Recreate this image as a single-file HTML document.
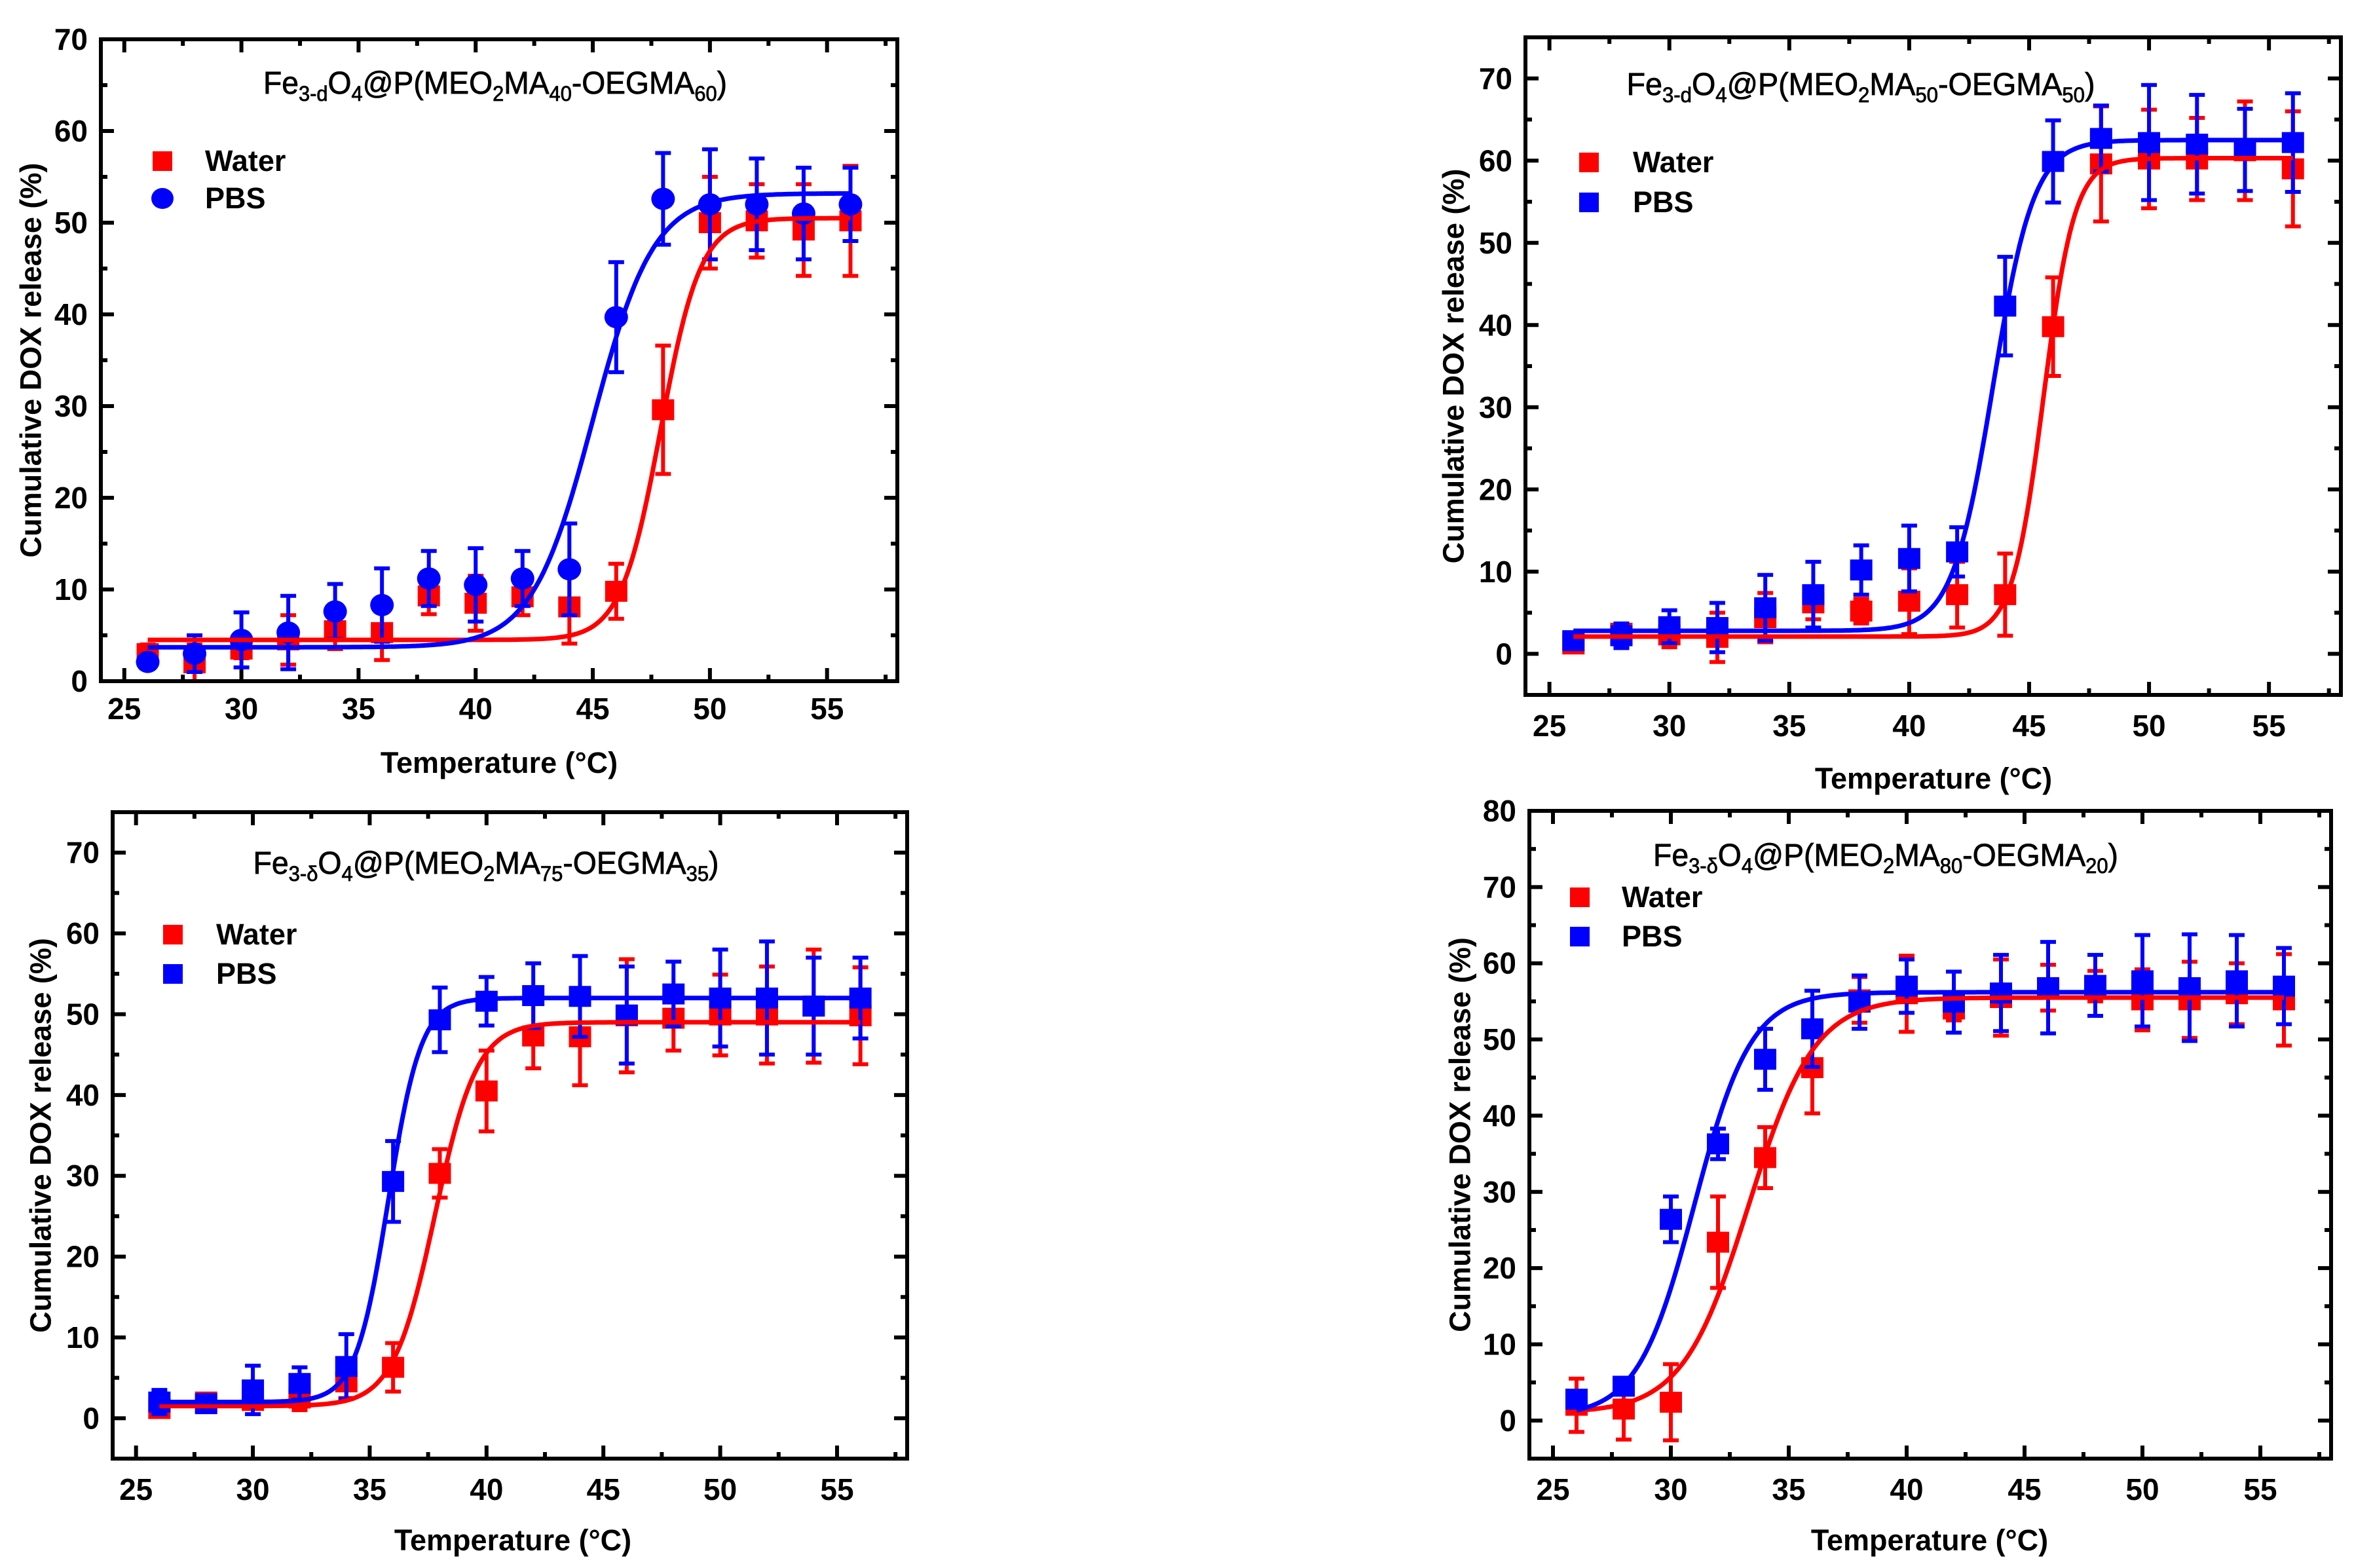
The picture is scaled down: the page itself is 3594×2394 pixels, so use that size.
<!DOCTYPE html>
<html><head><meta charset="utf-8"><style>
html,body{margin:0;padding:0;background:#fff}
svg{display:block}
text{font-family:"Liberation Sans",Arial,sans-serif}
</style></head><body>
<svg id="fig" xmlns="http://www.w3.org/2000/svg" width="3594" height="2394" viewBox="0 0 3594 2394"></svg>
<script>
// ---- data ----
const temps = [26,28,30,32,34,36,38,40,42,44,46,48,50,52,54,56];
const xTicks = [25,30,35,40,45,50,55];
const yTicks70 = [0,10,20,30,40,50,60,70];
const yTicks80 = [0,10,20,30,40,50,60,70,80];

const p1Water    = [3.0,2.0,3.5,4.5,5.5,5.3,9.3,8.5,9.2,8.1,9.8,29.6,50.0,50.2,49.2,50.2];
const p1WaterErr = [1.0,2.0,1.0,2.7,2.0,3.0,2.0,3.0,2.0,4.0,3.0,7.0,5.0,4.0,5.0,6.0];
const p1Pbs      = [2.1,3.0,4.5,5.3,7.6,8.3,11.2,10.5,11.2,12.2,39.7,52.6,52.0,52.0,51.0,52.0];
const p1PbsErr   = [0.5,2.0,3.0,4.0,3.0,4.0,3.0,4.0,3.0,5.0,6.0,5.0,6.0,5.0,5.0,4.0];
const p1WaterFit = [4.5,50.5,47.9,0.85];
const p1PbsFit   = [3.7,53.2,45.0,1.3];

const p2Water    = [1.2,2.5,2.3,2.0,4.4,6.2,5.2,6.4,7.2,7.2,39.8,59.6,60.2,60.2,61.2,59.0];
const p2WaterErr = [0.5,1.0,1.5,3.0,3.0,2.0,1.5,4.0,4.0,5.0,6.0,7.0,6.0,5.0,6.0,7.0];
const p2Pbs      = [1.6,2.2,3.3,3.2,5.6,7.2,10.2,11.6,12.4,42.3,59.9,62.7,62.2,62.0,61.3,62.2];
const p2PbsErr   = [1.0,1.5,2.0,3.0,4.0,4.0,3.0,4.0,3.0,6.0,5.0,4.0,7.0,6.0,5.0,6.0];
const p2WaterFit = [2.1,60.3,45.6,0.65];
const p2PbsFit   = [2.8,62.5,43.5,0.85];

const p3Water    = [1.2,2.0,2.2,2.5,4.5,6.3,30.3,40.5,47.3,47.2,49.8,49.5,49.9,49.9,51.0,49.8];
const p3WaterErr = [0.5,1.0,1.0,1.5,2.0,3.0,3.0,5.0,4.0,6.0,7.0,4.0,5.0,6.0,7.0,6.0];
const p3Pbs      = [2.0,1.8,3.5,4.3,6.4,29.3,49.3,51.6,52.3,52.2,49.9,52.5,52.0,52.0,51.0,52.0];
const p3PbsErr   = [1.5,0.5,3.0,2.0,4.0,5.0,4.0,3.0,4.0,5.0,6.0,4.0,6.0,7.0,6.0,5.0];
const p3WaterFit = [1.5,49.0,37.8,0.9];
const p3PbsFit   = [2.0,52.0,35.8,0.7];

const p4Water    = [2.0,1.5,2.4,23.4,34.5,46.3,55.2,56.0,54.0,55.5,56.8,57.0,55.2,55.2,56.0,55.2];
const p4WaterErr = [3.5,4.0,5.0,6.0,4.0,6.0,3.0,5.0,1.5,5.0,3.0,2.0,4.0,5.0,4.0,6.0];
const p4Pbs      = [2.8,4.5,26.4,36.3,47.4,51.4,54.9,57.0,54.9,56.1,56.8,57.1,57.7,56.8,57.7,57.0];
const p4PbsErr   = [1.0,0.5,3.0,2.0,4.0,5.0,3.5,3.5,4.0,5.0,6.0,4.0,6.0,7.0,6.0,5.0];
const p4WaterFit = [1.0,55.5,33.3,1.4];
const p4PbsFit   = [0.5,56.2,31.0,1.2];

// ---- layout ----
const panels = [
 {id:'p1',box:[154,60,1370,1040],yd:[0,70],yt:yTicks70,water:p1Water,we:p1WaterErr,pbs:p1Pbs,pe:p1PbsErr,wf:p1WaterFit,pf:p1PbsFit,
  title:{cx:756,by:143,len:708,d:'3-d',a:'40',b:'60'},leg:{mx:248,wy:246,py:303,tx:313},pbsCircle:true,
  yTitleX:47,xTitle:[762,1180],xTickBase:1096},
 {id:'p2',box:[2329,57,3574,1061],yd:[-5,75],yt:yTicks70,water:p2Water,we:p2WaterErr,pbs:p2Pbs,pe:p2PbsErr,wf:p2WaterFit,pf:p2PbsFit,
  title:{cx:2841,by:145,len:715,d:'3-d',a:'50',b:'50'},leg:{mx:2426,wy:248,py:309,tx:2493},pbsCircle:false,
  yTitleX:2219,xTitle:[2952,1204],xTickBase:1122},
 {id:'p3',box:[172,1240,1385,2227],yd:[-5,75],yt:yTicks70,water:p3Water,we:p3WaterErr,pbs:p3Pbs,pe:p3PbsErr,wf:p3WaterFit,pf:p3PbsFit,
  title:{cx:742,by:1334,len:711,d:'3-δ',a:'75',b:'35'},leg:{mx:264,wy:1427,py:1487,tx:330},pbsCircle:false,
  yTitleX:62,xTitle:[783,2367],xTickBase:2288},
 {id:'p4',box:[2335,1238,3559,2227],yd:[-5,80],yt:yTicks80,water:p4Water,we:p4WaterErr,pbs:p4Pbs,pe:p4PbsErr,wf:p4WaterFit,pf:p4PbsFit,
  title:{cx:2879,by:1322,len:710,d:'3-δ',a:'80',b:'20'},leg:{mx:2412,wy:1370,py:1430,tx:2476},pbsCircle:false,
  yTitleX:2229,xTitle:[2946,2367],xTickBase:2288}
];
const XD=[24,58];
const NS='http://www.w3.org/2000/svg';
const svg=document.getElementById('fig');
function mk(tag,parent,attrs){const e=document.createElementNS(NS,tag);for(const k in attrs)e.setAttribute(k,attrs[k]);parent.appendChild(e);return e;}
function boltz(p,x){return p[1]+(p[0]-p[1])/(1+Math.exp((x-p[2])/p[3]));}

panels.forEach(P=>{
  const [L,T,R,B]=P.box;
  const sx=v=>L+(v-XD[0])/(XD[1]-XD[0])*(R-L);
  const sy=v=>B-(v-P.yd[0])/(P.yd[1]-P.yd[0])*(B-T);
  const g=mk('g',svg,{});
  
  

  // ticks
  const tk=mk('g',g,{stroke:'#000','stroke-width':6});
  
  
  for(let v=25;v<=57.6;v+=2.5){
    const major=Math.abs(v%5)<0.01; const len=major?20:10; const x=sx(v);
    mk('line',tk,{x1:x,x2:x,y1:B,y2:B-len});
    mk('line',tk,{x1:x,x2:x,y1:T,y2:T+len});
  }
  for(let v=P.yt[0];v<=P.yd[1]+0.01;v+=5){
    const major=Math.abs(v%10)<0.01; const len=major?20:10; const y=sy(v);
    mk('line',tk,{x1:L,x2:L+len,y1:y,y2:y});
    mk('line',tk,{x1:R,x2:R-len,y1:y,y2:y});
  }
  // tick labels
  xTicks.forEach(v=>{
    const t=mk('text',g,{x:sx(v),y:P.xTickBase+2,'text-anchor':'middle','font-size':46,'font-weight':'bold'});
    
    
    t.textContent=v;
  });
  P.yt.forEach(v=>{
    const t=mk('text',g,{x:L-20,y:sy(v)+16,'text-anchor':'end','font-size':46,'font-weight':'bold'});
    
    
    t.textContent=v;
  });
  // axis titles
  const xt=mk('text',g,{x:P.xTitle[0],y:P.xTitle[1],'text-anchor':'middle','font-size':45,'font-weight':'bold'});
  
  
  xt.textContent='Temperature (°C)';
  const yc=(T+B)/2;
  const yt=mk('text',g,{x:P.yTitleX,y:yc,'text-anchor':'middle','dominant-baseline':'central','font-size':45,'font-weight':'bold',transform:`rotate(-90 ${P.yTitleX} ${yc})`});
  
  
  yt.textContent='Cumulative DOX release (%)';

  // title
  const ti=mk('text',g,{x:P.title.cx,y:P.title.by,'text-anchor':'middle','font-size':48,stroke:'#000','stroke-width':0.8,textLength:P.title.len,lengthAdjust:'spacingAndGlyphs'});
  
  
  const parts=[['Fe',0],[P.title.d,1],['O',0],['4',1],['@P(MEO',0],['2',1],['MA',0],[P.title.a,1],['-OEGMA',0],[P.title.b,1],[')',0]];
  parts.forEach(([s,sub])=>{
    const ts=mk('tspan',ti,sub?{'font-size':32}:{});
    ts.textContent=s;
    if(sub){ts.setAttribute('dy','11');}
    else if(ti.childNodes.length>1){ts.setAttribute('dy','-11');}
  });

  // series
  const clip=mk('clipPath',g,{id:'clip'+P.id});
  mk('rect',clip,{x:L,y:T,width:R-L,height:B-T});
  function series(vals,errs,color,name,circle){
    const sg=mk('g',g,{'clip-path':`url(#clip${P.id})`});
    
    
    temps.forEach((t,i)=>{
      const x=sx(t),y=sy(vals[i]),y1=sy(vals[i]+errs[i]),y2=sy(vals[i]-errs[i]);
      const eb=mk('path',sg,{d:`M${x},${y1}V${y2}M${x-12},${y1}H${x+12}M${x-12},${y2}H${x+12}`,stroke:color,'stroke-width':6,fill:'none'});
      
      
      let m;
      if(circle){m=mk('ellipse',sg,{cx:x,cy:y,rx:18,ry:17,fill:color});}
      else{m=mk('rect',sg,{x:x-17,y:y-16,width:34,height:32,fill:color});}
      
      
    });
  }
  series(P.water,P.we,'#ff0000',P.id+'-water',false);
  series(P.pbs,P.pe,'#0000ff',P.id+'-pbs',P.pbsCircle);
  function curve(p,color,name){
    let d='';
    for(let k=0;k<=300;k++){const x=26+30*k/300;d+=(k?'L':'M')+sx(x).toFixed(1)+','+sy(boltz(p,x)).toFixed(1);}
    const c=mk('path',g,{d:d,stroke:color,'stroke-width':7,fill:'none'});
    
    
  }
  curve(P.wf,'#ff0000',P.id+'-water-fit');
  curve(P.pf,'#0000ff',P.id+'-pbs-fit');

  // frame
  const fr=mk('rect',g,{x:L,y:T,width:R-L,height:B-T,fill:'none',stroke:'#000','stroke-width':6});
  
  

  // legend
  const lg=mk('g',g,{});
  
  
  const lw=mk('rect',lg,{x:P.leg.mx-15,y:P.leg.wy-15,width:30,height:30,fill:'#ff0000'});
  
  
  let lp;
  if(P.pbsCircle) lp=mk('ellipse',lg,{cx:P.leg.mx,cy:P.leg.py,rx:17,ry:16,fill:'#0000ff'});
  else lp=mk('rect',lg,{x:P.leg.mx-15,y:P.leg.py-15,width:30,height:30,fill:'#0000ff'});
  
  
  const t1=mk('text',lg,{x:P.leg.tx,y:P.leg.wy+15,'font-size':45,'font-weight':'bold'});
  
  
  t1.textContent='Water';
  const t2=mk('text',lg,{x:P.leg.tx,y:P.leg.py+15,'font-size':45,'font-weight':'bold'});
  
  
  t2.textContent='PBS';
});
</script>
</body></html>
